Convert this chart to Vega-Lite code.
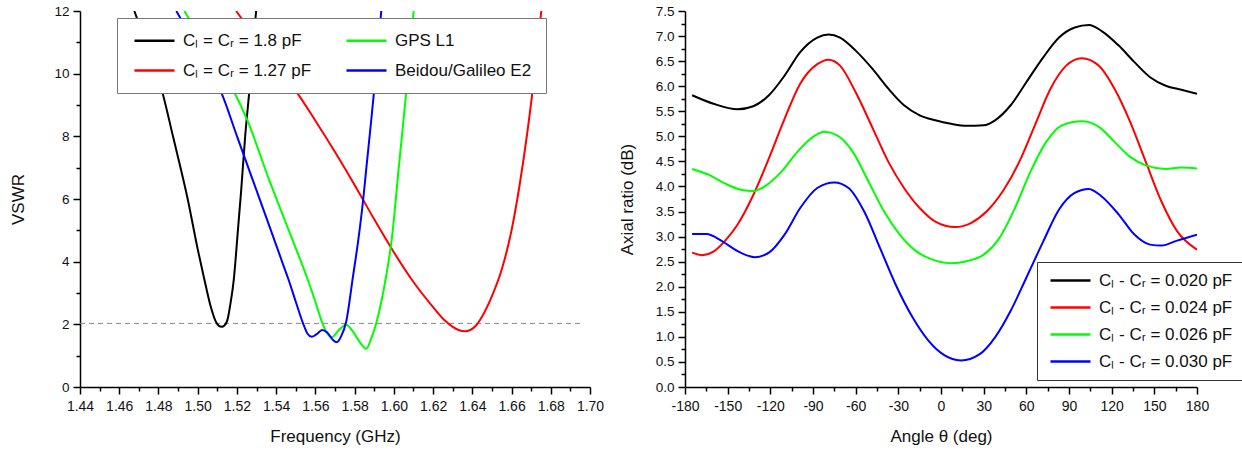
{
  "$schema": "https://vega.github.io/schema/vega-lite/v6.json",
  "autosize": {"type": "pad"},
  "padding": {"left": 9, "top": 4, "right": 5, "bottom": 5},
  "background": "white",
  "bounds": "flush",
  "spacing": 95,
  "config": {
    "view": {"stroke": null},
    "font": "Liberation Sans",
    "axis": {
      "grid": false,
      "domainColor": "#000",
      "domainWidth": 1.5,
      "tickColor": "#000",
      "tickWidth": 1.5,
      "labelColor": "#111",
      "titleColor": "#111",
      "labelFont": "Liberation Sans",
      "titleFont": "Liberation Sans",
      "titleFontWeight": "normal",
      "labelFlush": false,
      "labelOverlap": false,
      "labelBound": false
    },
    "legend": {"labelFont": "Liberation Sans", "labelColor": "#111"}
  },
  "resolve": {"scale": {"color": "independent"}, "legend": {"color": "independent"}},
  "datasets": {
    "ref": [{"f": 1.44, "f2": 1.695, "v": 2.03}],
    "vswr": [
      {"s": "Cₗ = Cᵣ = 1.8 pF", "f": 1.4677, "v": 12.0},
      {"s": "Cₗ = Cᵣ = 1.8 pF", "f": 1.4700, "v": 11.6},
      {"s": "Cₗ = Cᵣ = 1.8 pF", "f": 1.4760, "v": 10.5},
      {"s": "Cₗ = Cᵣ = 1.8 pF", "f": 1.4820, "v": 9.4},
      {"s": "Cₗ = Cᵣ = 1.8 pF", "f": 1.4874, "v": 8.0},
      {"s": "Cₗ = Cᵣ = 1.8 pF", "f": 1.4949, "v": 6.0},
      {"s": "Cₗ = Cᵣ = 1.8 pF", "f": 1.5000, "v": 4.4},
      {"s": "Cₗ = Cᵣ = 1.8 pF", "f": 1.5034, "v": 3.43},
      {"s": "Cₗ = Cᵣ = 1.8 pF", "f": 1.5065, "v": 2.6},
      {"s": "Cₗ = Cᵣ = 1.8 pF", "f": 1.5090, "v": 2.12},
      {"s": "Cₗ = Cᵣ = 1.8 pF", "f": 1.5108, "v": 1.95},
      {"s": "Cₗ = Cᵣ = 1.8 pF", "f": 1.5122, "v": 1.92},
      {"s": "Cₗ = Cᵣ = 1.8 pF", "f": 1.5136, "v": 1.96},
      {"s": "Cₗ = Cᵣ = 1.8 pF", "f": 1.5152, "v": 2.15},
      {"s": "Cₗ = Cᵣ = 1.8 pF", "f": 1.5168, "v": 2.7},
      {"s": "Cₗ = Cᵣ = 1.8 pF", "f": 1.5184, "v": 3.43},
      {"s": "Cₗ = Cᵣ = 1.8 pF", "f": 1.5205, "v": 5.0},
      {"s": "Cₗ = Cᵣ = 1.8 pF", "f": 1.5222, "v": 6.3},
      {"s": "Cₗ = Cᵣ = 1.8 pF", "f": 1.5242, "v": 8.0},
      {"s": "Cₗ = Cᵣ = 1.8 pF", "f": 1.5264, "v": 9.5},
      {"s": "Cₗ = Cᵣ = 1.8 pF", "f": 1.5283, "v": 11.0},
      {"s": "Cₗ = Cᵣ = 1.8 pF", "f": 1.5298, "v": 12.0},

      {"s": "Cₗ = Cᵣ = 1.27 pF", "f": 1.5196, "v": 12.0},
      {"s": "Cₗ = Cᵣ = 1.27 pF", "f": 1.5300, "v": 11.1},
      {"s": "Cₗ = Cᵣ = 1.27 pF", "f": 1.5400, "v": 10.25},
      {"s": "Cₗ = Cᵣ = 1.27 pF", "f": 1.5500, "v": 9.45},
      {"s": "Cₗ = Cᵣ = 1.27 pF", "f": 1.5600, "v": 8.5},
      {"s": "Cₗ = Cᵣ = 1.27 pF", "f": 1.5700, "v": 7.5},
      {"s": "Cₗ = Cᵣ = 1.27 pF", "f": 1.5800, "v": 6.45},
      {"s": "Cₗ = Cᵣ = 1.27 pF", "f": 1.5900, "v": 5.35},
      {"s": "Cₗ = Cᵣ = 1.27 pF", "f": 1.6000, "v": 4.3},
      {"s": "Cₗ = Cᵣ = 1.27 pF", "f": 1.6100, "v": 3.35},
      {"s": "Cₗ = Cᵣ = 1.27 pF", "f": 1.6200, "v": 2.55},
      {"s": "Cₗ = Cᵣ = 1.27 pF", "f": 1.6260, "v": 2.12},
      {"s": "Cₗ = Cᵣ = 1.27 pF", "f": 1.6300, "v": 1.92},
      {"s": "Cₗ = Cᵣ = 1.27 pF", "f": 1.6330, "v": 1.82},
      {"s": "Cₗ = Cᵣ = 1.27 pF", "f": 1.6360, "v": 1.78},
      {"s": "Cₗ = Cᵣ = 1.27 pF", "f": 1.6390, "v": 1.82},
      {"s": "Cₗ = Cᵣ = 1.27 pF", "f": 1.6420, "v": 1.97},
      {"s": "Cₗ = Cᵣ = 1.27 pF", "f": 1.6450, "v": 2.25},
      {"s": "Cₗ = Cᵣ = 1.27 pF", "f": 1.6500, "v": 2.9},
      {"s": "Cₗ = Cᵣ = 1.27 pF", "f": 1.6550, "v": 3.75},
      {"s": "Cₗ = Cᵣ = 1.27 pF", "f": 1.6600, "v": 5.0},
      {"s": "Cₗ = Cᵣ = 1.27 pF", "f": 1.6640, "v": 6.4},
      {"s": "Cₗ = Cᵣ = 1.27 pF", "f": 1.6680, "v": 8.1},
      {"s": "Cₗ = Cᵣ = 1.27 pF", "f": 1.6710, "v": 9.6},
      {"s": "Cₗ = Cᵣ = 1.27 pF", "f": 1.6730, "v": 10.8},
      {"s": "Cₗ = Cᵣ = 1.27 pF", "f": 1.6752, "v": 12.0},

      {"s": "GPS L1", "f": 1.4932, "v": 12.0},
      {"s": "GPS L1", "f": 1.5000, "v": 11.3},
      {"s": "GPS L1", "f": 1.5090, "v": 10.35},
      {"s": "GPS L1", "f": 1.5187, "v": 9.4},
      {"s": "GPS L1", "f": 1.5254, "v": 8.5},
      {"s": "GPS L1", "f": 1.5359, "v": 6.7},
      {"s": "GPS L1", "f": 1.5480, "v": 4.75},
      {"s": "GPS L1", "f": 1.5561, "v": 3.43},
      {"s": "GPS L1", "f": 1.5600, "v": 2.72},
      {"s": "GPS L1", "f": 1.5635, "v": 2.05},
      {"s": "GPS L1", "f": 1.5660, "v": 1.72},
      {"s": "GPS L1", "f": 1.5684, "v": 1.59},
      {"s": "GPS L1", "f": 1.5720, "v": 1.82},
      {"s": "GPS L1", "f": 1.5757, "v": 1.99},
      {"s": "GPS L1", "f": 1.5790, "v": 1.78},
      {"s": "GPS L1", "f": 1.5830, "v": 1.40},
      {"s": "GPS L1", "f": 1.5859, "v": 1.22},
      {"s": "GPS L1", "f": 1.5885, "v": 1.55},
      {"s": "GPS L1", "f": 1.5913, "v": 2.1},
      {"s": "GPS L1", "f": 1.5961, "v": 3.55},
      {"s": "GPS L1", "f": 1.5990, "v": 4.75},
      {"s": "GPS L1", "f": 1.6025, "v": 7.0},
      {"s": "GPS L1", "f": 1.6063, "v": 9.4},
      {"s": "GPS L1", "f": 1.6082, "v": 10.7},
      {"s": "GPS L1", "f": 1.6101, "v": 12.0},

      {"s": "Beidou/Galileo E2", "f": 1.4891, "v": 12.0},
      {"s": "Beidou/Galileo E2", "f": 1.4950, "v": 11.35},
      {"s": "Beidou/Galileo E2", "f": 1.5030, "v": 10.45},
      {"s": "Beidou/Galileo E2", "f": 1.5120, "v": 9.4},
      {"s": "Beidou/Galileo E2", "f": 1.5200, "v": 8.01},
      {"s": "Beidou/Galileo E2", "f": 1.5280, "v": 6.62},
      {"s": "Beidou/Galileo E2", "f": 1.5360, "v": 5.23},
      {"s": "Beidou/Galileo E2", "f": 1.5436, "v": 3.9},
      {"s": "Beidou/Galileo E2", "f": 1.5463, "v": 3.43},
      {"s": "Beidou/Galileo E2", "f": 1.5500, "v": 2.72},
      {"s": "Beidou/Galileo E2", "f": 1.5536, "v": 2.05},
      {"s": "Beidou/Galileo E2", "f": 1.5560, "v": 1.70},
      {"s": "Beidou/Galileo E2", "f": 1.5582, "v": 1.60},
      {"s": "Beidou/Galileo E2", "f": 1.5605, "v": 1.68},
      {"s": "Beidou/Galileo E2", "f": 1.5635, "v": 1.82},
      {"s": "Beidou/Galileo E2", "f": 1.5660, "v": 1.74},
      {"s": "Beidou/Galileo E2", "f": 1.5690, "v": 1.50},
      {"s": "Beidou/Galileo E2", "f": 1.5709, "v": 1.43},
      {"s": "Beidou/Galileo E2", "f": 1.5730, "v": 1.60},
      {"s": "Beidou/Galileo E2", "f": 1.5757, "v": 2.08},
      {"s": "Beidou/Galileo E2", "f": 1.5791, "v": 3.5},
      {"s": "Beidou/Galileo E2", "f": 1.5820, "v": 4.75},
      {"s": "Beidou/Galileo E2", "f": 1.5844, "v": 6.0},
      {"s": "Beidou/Galileo E2", "f": 1.5860, "v": 7.0},
      {"s": "Beidou/Galileo E2", "f": 1.5878, "v": 8.1},
      {"s": "Beidou/Galileo E2", "f": 1.5897, "v": 9.3},
      {"s": "Beidou/Galileo E2", "f": 1.5915, "v": 10.6},
      {"s": "Beidou/Galileo E2", "f": 1.5936, "v": 12.0}
    ],
    "ar": [
      {"s": "Cₗ - Cᵣ = 0.020 pF", "a": -175, "r": 5.82},
      {"s": "Cₗ - Cᵣ = 0.020 pF", "a": -160, "r": 5.65},
      {"s": "Cₗ - Cᵣ = 0.020 pF", "a": -143, "r": 5.54},
      {"s": "Cₗ - Cᵣ = 0.020 pF", "a": -132, "r": 5.60},
      {"s": "Cₗ - Cᵣ = 0.020 pF", "a": -121, "r": 5.82},
      {"s": "Cₗ - Cᵣ = 0.020 pF", "a": -110, "r": 6.21},
      {"s": "Cₗ - Cᵣ = 0.020 pF", "a": -99, "r": 6.68},
      {"s": "Cₗ - Cᵣ = 0.020 pF", "a": -87, "r": 6.97},
      {"s": "Cₗ - Cᵣ = 0.020 pF", "a": -79, "r": 7.03},
      {"s": "Cₗ - Cᵣ = 0.020 pF", "a": -71, "r": 6.97},
      {"s": "Cₗ - Cᵣ = 0.020 pF", "a": -60, "r": 6.71},
      {"s": "Cₗ - Cᵣ = 0.020 pF", "a": -48, "r": 6.34},
      {"s": "Cₗ - Cᵣ = 0.020 pF", "a": -37, "r": 5.95},
      {"s": "Cₗ - Cᵣ = 0.020 pF", "a": -26, "r": 5.62},
      {"s": "Cₗ - Cᵣ = 0.020 pF", "a": -15, "r": 5.42},
      {"s": "Cₗ - Cᵣ = 0.020 pF", "a": -4, "r": 5.32},
      {"s": "Cₗ - Cᵣ = 0.020 pF", "a": 7, "r": 5.25},
      {"s": "Cₗ - Cᵣ = 0.020 pF", "a": 18, "r": 5.21},
      {"s": "Cₗ - Cᵣ = 0.020 pF", "a": 30, "r": 5.22},
      {"s": "Cₗ - Cᵣ = 0.020 pF", "a": 38, "r": 5.32},
      {"s": "Cₗ - Cᵣ = 0.020 pF", "a": 49, "r": 5.62},
      {"s": "Cₗ - Cᵣ = 0.020 pF", "a": 60, "r": 6.08},
      {"s": "Cₗ - Cᵣ = 0.020 pF", "a": 72, "r": 6.58},
      {"s": "Cₗ - Cᵣ = 0.020 pF", "a": 83, "r": 6.97},
      {"s": "Cₗ - Cᵣ = 0.020 pF", "a": 94, "r": 7.17},
      {"s": "Cₗ - Cᵣ = 0.020 pF", "a": 104, "r": 7.22},
      {"s": "Cₗ - Cᵣ = 0.020 pF", "a": 113, "r": 7.10},
      {"s": "Cₗ - Cᵣ = 0.020 pF", "a": 125, "r": 6.81},
      {"s": "Cₗ - Cᵣ = 0.020 pF", "a": 136, "r": 6.48},
      {"s": "Cₗ - Cᵣ = 0.020 pF", "a": 147, "r": 6.18},
      {"s": "Cₗ - Cᵣ = 0.020 pF", "a": 158, "r": 6.01},
      {"s": "Cₗ - Cᵣ = 0.020 pF", "a": 169, "r": 5.93},
      {"s": "Cₗ - Cᵣ = 0.020 pF", "a": 180, "r": 5.85},

      {"s": "Cₗ - Cᵣ = 0.024 pF", "a": -175, "r": 2.68},
      {"s": "Cₗ - Cᵣ = 0.024 pF", "a": -168, "r": 2.63},
      {"s": "Cₗ - Cᵣ = 0.024 pF", "a": -160, "r": 2.70},
      {"s": "Cₗ - Cᵣ = 0.024 pF", "a": -152, "r": 2.91},
      {"s": "Cₗ - Cᵣ = 0.024 pF", "a": -143, "r": 3.24},
      {"s": "Cₗ - Cᵣ = 0.024 pF", "a": -132, "r": 3.83},
      {"s": "Cₗ - Cᵣ = 0.024 pF", "a": -121, "r": 4.56},
      {"s": "Cₗ - Cᵣ = 0.024 pF", "a": -110, "r": 5.35},
      {"s": "Cₗ - Cᵣ = 0.024 pF", "a": -99, "r": 6.05},
      {"s": "Cₗ - Cᵣ = 0.024 pF", "a": -87, "r": 6.44},
      {"s": "Cₗ - Cᵣ = 0.024 pF", "a": -79, "r": 6.53},
      {"s": "Cₗ - Cᵣ = 0.024 pF", "a": -71, "r": 6.41},
      {"s": "Cₗ - Cᵣ = 0.024 pF", "a": -60, "r": 5.88},
      {"s": "Cₗ - Cᵣ = 0.024 pF", "a": -48, "r": 5.16},
      {"s": "Cₗ - Cᵣ = 0.024 pF", "a": -37, "r": 4.49},
      {"s": "Cₗ - Cᵣ = 0.024 pF", "a": -26, "r": 3.97},
      {"s": "Cₗ - Cᵣ = 0.024 pF", "a": -15, "r": 3.57},
      {"s": "Cₗ - Cᵣ = 0.024 pF", "a": -4, "r": 3.30},
      {"s": "Cₗ - Cᵣ = 0.024 pF", "a": 10, "r": 3.19},
      {"s": "Cₗ - Cᵣ = 0.024 pF", "a": 21, "r": 3.27},
      {"s": "Cₗ - Cᵣ = 0.024 pF", "a": 32, "r": 3.50},
      {"s": "Cₗ - Cᵣ = 0.024 pF", "a": 44, "r": 3.93},
      {"s": "Cₗ - Cᵣ = 0.024 pF", "a": 55, "r": 4.49},
      {"s": "Cₗ - Cᵣ = 0.024 pF", "a": 66, "r": 5.22},
      {"s": "Cₗ - Cᵣ = 0.024 pF", "a": 77, "r": 5.95},
      {"s": "Cₗ - Cᵣ = 0.024 pF", "a": 88, "r": 6.41},
      {"s": "Cₗ - Cᵣ = 0.024 pF", "a": 99, "r": 6.56},
      {"s": "Cₗ - Cᵣ = 0.024 pF", "a": 111, "r": 6.41},
      {"s": "Cₗ - Cᵣ = 0.024 pF", "a": 122, "r": 5.95},
      {"s": "Cₗ - Cᵣ = 0.024 pF", "a": 133, "r": 5.29},
      {"s": "Cₗ - Cᵣ = 0.024 pF", "a": 144, "r": 4.49},
      {"s": "Cₗ - Cᵣ = 0.024 pF", "a": 155, "r": 3.70},
      {"s": "Cₗ - Cᵣ = 0.024 pF", "a": 166, "r": 3.11},
      {"s": "Cₗ - Cᵣ = 0.024 pF", "a": 180, "r": 2.74},

      {"s": "Cₗ - Cᵣ = 0.026 pF", "a": -175, "r": 4.35},
      {"s": "Cₗ - Cᵣ = 0.026 pF", "a": -163, "r": 4.23},
      {"s": "Cₗ - Cᵣ = 0.026 pF", "a": -152, "r": 4.06},
      {"s": "Cₗ - Cᵣ = 0.026 pF", "a": -140, "r": 3.93},
      {"s": "Cₗ - Cᵣ = 0.026 pF", "a": -132, "r": 3.91},
      {"s": "Cₗ - Cᵣ = 0.026 pF", "a": -124, "r": 4.00},
      {"s": "Cₗ - Cᵣ = 0.026 pF", "a": -112, "r": 4.30},
      {"s": "Cₗ - Cᵣ = 0.026 pF", "a": -101, "r": 4.69},
      {"s": "Cₗ - Cᵣ = 0.026 pF", "a": -90, "r": 4.99},
      {"s": "Cₗ - Cᵣ = 0.026 pF", "a": -82, "r": 5.09},
      {"s": "Cₗ - Cᵣ = 0.026 pF", "a": -73, "r": 5.02},
      {"s": "Cₗ - Cᵣ = 0.026 pF", "a": -62, "r": 4.69},
      {"s": "Cₗ - Cᵣ = 0.026 pF", "a": -51, "r": 4.10},
      {"s": "Cₗ - Cᵣ = 0.026 pF", "a": -40, "r": 3.50},
      {"s": "Cₗ - Cᵣ = 0.026 pF", "a": -29, "r": 3.04},
      {"s": "Cₗ - Cᵣ = 0.026 pF", "a": -18, "r": 2.72},
      {"s": "Cₗ - Cᵣ = 0.026 pF", "a": -6, "r": 2.54},
      {"s": "Cₗ - Cᵣ = 0.026 pF", "a": 7, "r": 2.47},
      {"s": "Cₗ - Cᵣ = 0.026 pF", "a": 18, "r": 2.51},
      {"s": "Cₗ - Cᵣ = 0.026 pF", "a": 30, "r": 2.64},
      {"s": "Cₗ - Cᵣ = 0.026 pF", "a": 41, "r": 2.97},
      {"s": "Cₗ - Cᵣ = 0.026 pF", "a": 52, "r": 3.57},
      {"s": "Cₗ - Cᵣ = 0.026 pF", "a": 63, "r": 4.30},
      {"s": "Cₗ - Cᵣ = 0.026 pF", "a": 74, "r": 4.89},
      {"s": "Cₗ - Cᵣ = 0.026 pF", "a": 85, "r": 5.22},
      {"s": "Cₗ - Cᵣ = 0.026 pF", "a": 99, "r": 5.30},
      {"s": "Cₗ - Cᵣ = 0.026 pF", "a": 111, "r": 5.19},
      {"s": "Cₗ - Cᵣ = 0.026 pF", "a": 122, "r": 4.89},
      {"s": "Cₗ - Cᵣ = 0.026 pF", "a": 133, "r": 4.59},
      {"s": "Cₗ - Cᵣ = 0.026 pF", "a": 144, "r": 4.42},
      {"s": "Cₗ - Cᵣ = 0.026 pF", "a": 158, "r": 4.35},
      {"s": "Cₗ - Cᵣ = 0.026 pF", "a": 169, "r": 4.38},
      {"s": "Cₗ - Cᵣ = 0.026 pF", "a": 180, "r": 4.36},

      {"s": "Cₗ - Cᵣ = 0.030 pF", "a": -175, "r": 3.05},
      {"s": "Cₗ - Cᵣ = 0.030 pF", "a": -165, "r": 3.05},
      {"s": "Cₗ - Cᵣ = 0.030 pF", "a": -154, "r": 2.91},
      {"s": "Cₗ - Cᵣ = 0.030 pF", "a": -143, "r": 2.71},
      {"s": "Cₗ - Cᵣ = 0.030 pF", "a": -131, "r": 2.59},
      {"s": "Cₗ - Cᵣ = 0.030 pF", "a": -121, "r": 2.68},
      {"s": "Cₗ - Cᵣ = 0.030 pF", "a": -110, "r": 3.04},
      {"s": "Cₗ - Cᵣ = 0.030 pF", "a": -99, "r": 3.57},
      {"s": "Cₗ - Cᵣ = 0.030 pF", "a": -87, "r": 3.97},
      {"s": "Cₗ - Cᵣ = 0.030 pF", "a": -75, "r": 4.08},
      {"s": "Cₗ - Cᵣ = 0.030 pF", "a": -65, "r": 3.97},
      {"s": "Cₗ - Cᵣ = 0.030 pF", "a": -54, "r": 3.50},
      {"s": "Cₗ - Cᵣ = 0.030 pF", "a": -43, "r": 2.78},
      {"s": "Cₗ - Cᵣ = 0.030 pF", "a": -32, "r": 2.05},
      {"s": "Cₗ - Cᵣ = 0.030 pF", "a": -20, "r": 1.39},
      {"s": "Cₗ - Cᵣ = 0.030 pF", "a": -9, "r": 0.93},
      {"s": "Cₗ - Cᵣ = 0.030 pF", "a": 2, "r": 0.64},
      {"s": "Cₗ - Cᵣ = 0.030 pF", "a": 14, "r": 0.53},
      {"s": "Cₗ - Cᵣ = 0.030 pF", "a": 27, "r": 0.65},
      {"s": "Cₗ - Cᵣ = 0.030 pF", "a": 38, "r": 0.99},
      {"s": "Cₗ - Cᵣ = 0.030 pF", "a": 49, "r": 1.52},
      {"s": "Cₗ - Cᵣ = 0.030 pF", "a": 60, "r": 2.18},
      {"s": "Cₗ - Cᵣ = 0.030 pF", "a": 72, "r": 2.91},
      {"s": "Cₗ - Cᵣ = 0.030 pF", "a": 83, "r": 3.54},
      {"s": "Cₗ - Cᵣ = 0.030 pF", "a": 94, "r": 3.87},
      {"s": "Cₗ - Cᵣ = 0.030 pF", "a": 104, "r": 3.95},
      {"s": "Cₗ - Cᵣ = 0.030 pF", "a": 113, "r": 3.80},
      {"s": "Cₗ - Cᵣ = 0.030 pF", "a": 125, "r": 3.44},
      {"s": "Cₗ - Cᵣ = 0.030 pF", "a": 136, "r": 3.04},
      {"s": "Cₗ - Cᵣ = 0.030 pF", "a": 147, "r": 2.84},
      {"s": "Cₗ - Cᵣ = 0.030 pF", "a": 155, "r": 2.82},
      {"s": "Cₗ - Cᵣ = 0.030 pF", "a": 166, "r": 2.92},
      {"s": "Cₗ - Cᵣ = 0.030 pF", "a": 180, "r": 3.04}
    ]
  },
  "hconcat": [
    {
      "width": 510,
      "height": 376,
      "resolve": {"axis": {"x": "independent", "y": "independent"}},
      "layer": [
        {
          "data": {"name": "ref"},
          "mark": {"type": "rule", "color": "#888", "strokeWidth": 1, "strokeDash": [5, 4]},
          "encoding": {
            "x": {
              "field": "f", "type": "quantitative",
              "scale": {"domain": [1.44, 1.70], "nice": false, "zero": false},
              "axis": {"orient": "bottom", "title": null, "labels": false, "domain": false, "tickSize": 4,
                       "values": [1.45,1.47,1.49,1.51,1.53,1.55,1.57,1.59,1.61,1.63,1.65,1.67,1.69]}
            },
            "x2": {"field": "f2"},
            "y": {
              "field": "v", "type": "quantitative",
              "scale": {"domain": [0, 12], "nice": false, "zero": false},
              "axis": {"orient": "left", "title": null, "labels": false, "domain": false, "tickSize": 4,
                       "values": [1,3,5,7,9,11]}
            }
          }
        },
        {
          "data": {"name": "vswr"},
          "mark": {"type": "line", "strokeWidth": 2, "interpolate": "monotone", "clip": true},
          "encoding": {
            "x": {
              "field": "f", "type": "quantitative",
              "scale": {"domain": [1.44, 1.70], "nice": false, "zero": false},
              "axis": {
                "orient": "bottom",
                "title": "Frequency (GHz)",
                "titleFontSize": 17,
                "titlePadding": 15,
                "labelFontSize": 14,
                "labelPadding": 5,
                "tickSize": 7,
                "values": [1.44,1.46,1.48,1.50,1.52,1.54,1.56,1.58,1.60,1.62,1.64,1.66,1.68,1.70],
                "labelExpr": "format(datum.value, '.2f')"
              }
            },
            "y": {
              "field": "v", "type": "quantitative",
              "scale": {"domain": [0, 12], "nice": false, "zero": false},
              "axis": {
                "orient": "left",
                "title": "VSWR",
                "titleFontSize": 17,
                "titlePadding": 26,
                "labelFontSize": 13.5,
                "labelPadding": 4,
                "tickSize": 7,
                "values": [0,2,4,6,8,10,12],
                "labelExpr": "'' + datum.value"
              }
            },
            "color": {
              "field": "s", "type": "nominal",
              "scale": {
                "domain": ["Cₗ = Cᵣ = 1.8 pF", "Cₗ = Cᵣ = 1.27 pF", "GPS L1", "Beidou/Galileo E2"],
                "range": ["#000000", "#ff0000", "#00ff00", "#0000ff"]
              },
              "legend": {
                "title": null,
                "orient": "none",
                "legendX": 37,
                "legendY": 7,
                "columns": 2,
                "gridAlign": "all",
                "columnPadding": 21,
                "rowPadding": 12,
                "padding": 14,
                "fillColor": "white",
                "strokeColor": "#777",
                "labelFontSize": 17,
                "labelLimit": 400,
                "labelOffset": 35,
                "symbolType": "M-1,0H7",
                "symbolSize": 100,
                "symbolStrokeWidth": 2.5,
                "symbolFillColor": "transparent"
              }
            }
          }
        }
      ]
    },
    {
      "width": 512,
      "height": 376,
      "data": {"name": "ar"},
      "resolve": {"axis": {"x": "independent", "y": "independent"}},
      "layer": [
        {
          "mark": {"type": "point", "opacity": 0},
          "encoding": {
            "x": {
              "field": "a", "type": "quantitative",
              "scale": {"domain": [-180, 180], "nice": false, "zero": false},
              "axis": {"orient": "bottom", "title": null, "labels": false, "domain": false, "tickSize": 4,
                       "values": [-165,-135,-105,-75,-45,-15,15,45,75,105,135,165]}
            },
            "y": {
              "field": "r", "type": "quantitative",
              "scale": {"domain": [0, 7.5], "nice": false, "zero": false},
              "axis": {"orient": "left", "title": null, "labels": false, "domain": false, "tickSize": 4,
                       "values": [0.25,0.75,1.25,1.75,2.25,2.75,3.25,3.75,4.25,4.75,5.25,5.75,6.25,6.75,7.25]}
            }
          }
        },
        {
          "mark": {"type": "line", "strokeWidth": 2, "interpolate": "monotone", "clip": true},
          "encoding": {
            "x": {
              "field": "a", "type": "quantitative",
              "scale": {"domain": [-180, 180], "nice": false, "zero": false},
              "axis": {
                "orient": "bottom",
                "title": "Angle θ (deg)",
                "titleFontSize": 17,
                "titlePadding": 15,
                "labelFontSize": 14,
                "labelPadding": 5,
                "tickSize": 7,
                "values": [-180,-150,-120,-90,-60,-30,0,30,60,90,120,150,180],
                "labelExpr": "'' + datum.value"
              }
            },
            "y": {
              "field": "r", "type": "quantitative",
              "scale": {"domain": [0, 7.5], "nice": false, "zero": false},
              "axis": {
                "orient": "left",
                "title": "Axial ratio (dB)",
                "titleFontSize": 17,
                "titlePadding": 19,
                "labelFontSize": 13.5,
                "labelPadding": 4,
                "tickSize": 7,
                "values": [0,0.5,1,1.5,2,2.5,3,3.5,4,4.5,5,5.5,6,6.5,7,7.5],
                "labelExpr": "format(datum.value, '.1f')"
              }
            },
            "color": {
              "field": "s", "type": "nominal",
              "scale": {
                "domain": ["Cₗ - Cᵣ = 0.020 pF", "Cₗ - Cᵣ = 0.024 pF", "Cₗ - Cᵣ = 0.026 pF", "Cₗ - Cᵣ = 0.030 pF"],
                "range": ["#000000", "#ff0000", "#00ff00", "#0000ff"]
              },
              "legend": {
                "title": null,
                "orient": "none",
                "legendX": 352,
                "legendY": 251,
                "rowPadding": 9,
                "padding": 10,
                "fillColor": "white",
                "strokeColor": "#333",
                "labelFontSize": 17,
                "labelLimit": 400,
                "labelOffset": 35,
                "symbolType": "M-1,0H7",
                "symbolSize": 100,
                "symbolStrokeWidth": 2.5,
                "symbolFillColor": "transparent"
              }
            }
          }
        }
      ]
    }
  ]
}
